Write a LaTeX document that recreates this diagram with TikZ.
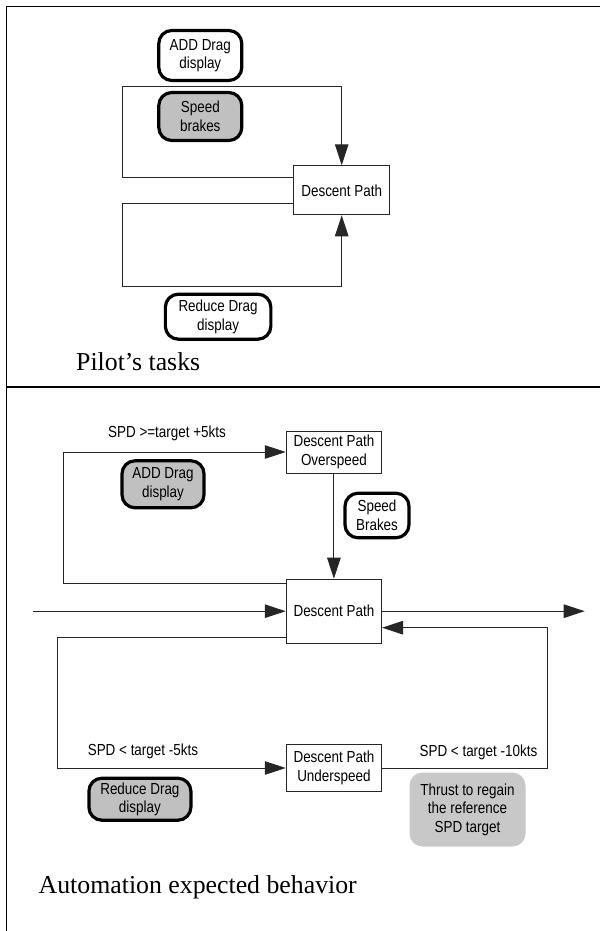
\documentclass[tikz,border=0pt]{standalone}
\usepackage{fontspec}
\usetikzlibrary{arrows.meta}
\newfontfamily\labelsans[FakeStretch=0.84]{Liberation Sans}
\newfontfamily\titleserif{Liberation Serif}
\definecolor{boxgray}{RGB}{192,192,192}
\definecolor{softgray}{RGB}{200,200,200}
\tikzset{
  wire/.style={line width=1pt, draw=black!85},
  flow/.style={wire, -{Triangle[length=21pt,width=13.5pt]}},
  labelfont/.style={font=\labelsans\fontsize{16}{18.5}\selectfont},
  pathbox/.style={draw=black!85, line width=1pt, fill=white, inner sep=0pt,
    align=center, labelfont},
  taskbox/.style={draw=black, line width=3.2pt, rounded corners=13pt, fill=white,
    inner sep=0pt, align=center, labelfont},
  grayfill/.style={fill=boxgray},
  autobox/.style={fill=softgray, rounded corners=13pt, inner sep=0pt,
    align=center, labelfont},
  cond/.style={inner sep=0pt, labelfont},
  caption/.style={inner sep=0pt, anchor=base west,
    font=\titleserif\fontsize{25.8}{30}\selectfont},
}
\begin{document}
\begin{tikzpicture}[x=1pt,y=-1pt]
\useasboundingbox (0,0) rectangle (600,931);
% frame and divider
\draw[line width=1.2pt] (6.1,931) -- (6.1,6.7) -- (600,6.7);
\draw[line width=2pt] (6.1,386.7) -- (600,386.7);

% ---- pilot's tasks ----
\node[pathbox, minimum width=95.5pt, minimum height=49pt] (dp1) at (341.7,190.3) {Descent Path};
\node[taskbox, minimum width=83pt, minimum height=50pt] (add1) at (200.3,55.5) {ADD Drag\\display};
\node[taskbox, grayfill, minimum width=83pt, minimum height=48pt] (sb1) at (200.3,116.5) {Speed\\brakes};
\node[taskbox, minimum width=105.5pt, minimum height=45pt] (red1) at (218.1,316.7) {Reduce Drag\\display};
\node[caption] (t1) at (76,370) {Pilot’s tasks};

\draw[flow] ([yshift=13.3pt]dp1.west) -- (122.5,177) -- (122.5,86.7) -| (dp1.north);
\draw[flow] ([yshift=-13pt]dp1.west) -- (122.5,203.3) -- (122.5,286) -| (dp1.south);

% ---- automation expected behaviour ----
\node[pathbox, minimum width=95.3pt, minimum height=42pt] (ov) at (333.9,452) {Descent Path\\Overspeed};
\node[pathbox, minimum width=95.3pt, minimum height=64pt] (dp2) at (333.9,611.2) {Descent Path};
\node[pathbox, minimum width=95.3pt, minimum height=47pt] (un) at (333.9,768) {Descent Path\\Underspeed};
\node[taskbox, grayfill, minimum width=82pt, minimum height=47pt] (add2) at (163,484.3) {ADD Drag\\display};
\node[taskbox, minimum width=64pt, minimum height=44.5pt] (sb2) at (377,515.5) {Speed\\Brakes};
\node[taskbox, grayfill, minimum width=102pt, minimum height=42pt] (red2) at (139.9,799.2) {Reduce Drag\\display};
\node[autobox, minimum width=116pt, minimum height=74pt] (thr) at (467.5,809.5) {Thrust to regain\\the reference\\SPD target};

\node[cond] (c1) at (167,433) {SPD >=target +5kts};
\node[cond] (c2) at (142.9,751) {SPD < target -5kts};
\node[cond] (c3) at (478.4,752.7) {SPD < target -10kts};

\coordinate (in) at (32.5,611.2);
\coordinate (out) at (584.7,611.2);

\draw[flow] ([yshift=27.9pt]dp2.west) -- (63.9,583.3) -- (63.9,452) -- (ov.west);
\draw[flow] (ov.south) -- (dp2.north);
\draw[flow] (in) -- (dp2.west);
\draw[flow] (dp2.east) -- (out);
\draw[flow] (un.east) -- (547.2,768) -- (547.2,627.7) -- ([yshift=-16.5pt]dp2.east);
\draw[flow] ([yshift=-26.1pt]dp2.west) -- (57.4,637.3) -- (57.4,768) -- (un.west);

\node[caption] (t2) at (38.5,893) {Automation expected behavior};
\end{tikzpicture}
\end{document}
